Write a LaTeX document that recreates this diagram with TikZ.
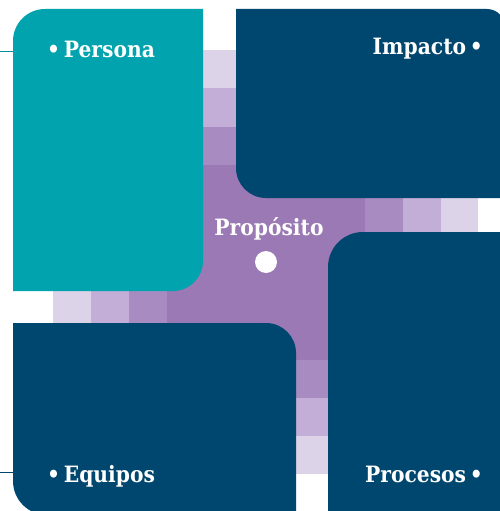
\documentclass[tikz,border=0pt]{standalone}
\usepackage{fontspec}
\setmainfont{DejaVu Serif}[FakeStretch=0.9]
\usetikzlibrary{positioning}

\definecolor{tealbox}{RGB}{0,163,174}
\definecolor{navybox}{RGB}{0,71,111}
\definecolor{purplec}{RGB}{154,121,180}
\definecolor{lilaA}{RGB}{168,140,193}
\definecolor{lilaB}{RGB}{194,174,214}
\definecolor{lilaC}{RGB}{221,211,232}

\begin{document}
\begin{tikzpicture}[x=1pt,y=-1pt, every node/.style={font=\bfseries\fontsize{22.5}{26}\selectfont,text=white,inner sep=0pt}]
  \useasboundingbox[fill=white] (0,0) rectangle (500,511);
  \begin{scope}
  \clip (0,0) rectangle (500,511);
  % centro morado
  \fill[purplec] (167,165) rectangle (365,360);
  % degradado de los brazos
  \foreach \c/\i in {lilaC/0,lilaB/1,lilaA/2}{
      \fill[\c] (53+38*\i,291) rectangle ++(38,32);
      \fill[\c] (203,50+38.3*\i) rectangle ++(33,38.3);
      \fill[\c] (440-37.5*\i,198) rectangle ++(38,34);
      \fill[\c] (296,436-38*\i) rectangle ++(32,38);
  }
  % cajas
  \fill[tealbox] (13,291) -- (13,41) arc[start angle=180,end angle=270,radius=32]
    -- (203,9) -- (203,261) arc[start angle=0,end angle=90,radius=30] -- cycle;
  \fill[navybox] (236,168) -- (236,9) -- (487,9) arc[start angle=270,end angle=360,radius=18]
    -- (505,198) -- (266,198) arc[start angle=90,end angle=180,radius=30] -- cycle;
  \fill[navybox] (13,323) -- (266,323) arc[start angle=270,end angle=360,radius=30]
    -- (296,515) -- (47,515) arc[start angle=90,end angle=180,radius=34] -- cycle;
  \fill[navybox] (328,267) arc[start angle=180,end angle=270,radius=35]
    -- (505,232) -- (505,515) -- (328,515) -- cycle;
  \end{scope}
  % lineas de entrada
  \coordinate (p0) at (0,52);
  \coordinate (p1) at (13,52);
  \coordinate (e0) at (0,472);
  \coordinate (e1) at (13,472);
  \draw[tealbox!80!navybox,line width=1pt] (p0) -- (p1);
  \draw[navybox,line width=1pt] (e0) -- (e1);
  % textos
  \node[anchor=base west] (persona) at (47,57) {•\,Persona};
  \node[anchor=base east] (impacto) at (483,55) {Impacto\,•};
  \node[anchor=base west] (equipos) at (47,482) {•\,Equipos};
  \node[anchor=base east] (procesos) at (483,482) {Procesos\,•};
  \node[anchor=base] (proposito) at (269,235) {Propósito};
  \node[fill=white,circle,minimum size=22pt] (centro) at (266,262) {};
\end{tikzpicture}
\end{document}
